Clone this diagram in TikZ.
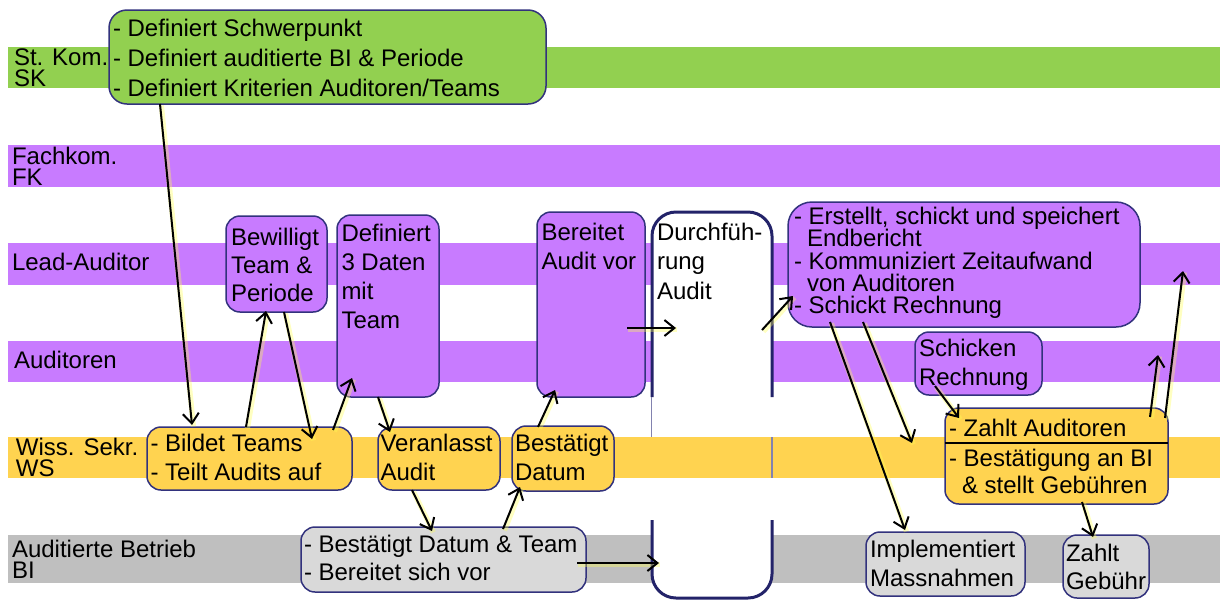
\documentclass[tikz,border=0pt]{standalone}
\usepackage{fontspec}
\setmainfont{Liberation Sans}
\usetikzlibrary{arrows.meta,calc}
\definecolor{cgreen}{RGB}{146,208,80}
\definecolor{cpurple}{RGB}{200,123,255}
\definecolor{cyellow}{RGB}{255,211,80}
\definecolor{cgrayband}{RGB}{191,191,191}
\definecolor{cgraybox}{RGB}{217,217,217}
\definecolor{cborder}{RGB}{50,50,125}
\definecolor{cdur}{RGB}{35,35,105}
\definecolor{cthin}{RGB}{130,130,175}
\definecolor{cglow}{RGB}{255,255,80}
\newcommand\tl[2]{\parbox[t]{9cm}{\fontsize{12}{#1}\selectfont #2}}
\begin{document}
\begin{tikzpicture}[x=0.5pt,y=-0.5pt,
  box/.style={draw=cborder, line width=0.75pt, rounded corners=7pt, inner sep=0pt, outer sep=0pt, anchor=north west},
  txt/.style={anchor=base west, inner sep=0pt, outer sep=0pt},
  arr/.style={draw=black, line width=1pt, -{Straight Barb[length=5pt,width=8pt,line width=1pt]},
    preaction={draw=cglow, draw opacity=0.35, line width=2.6pt, -, transform canvas={shift={(0.7pt,-0.7pt)}}}},
  durline/.style={draw=cdur, line width=1.5pt, fill=white, rounded corners=12pt}]
\useasboundingbox (0,0) rectangle (1220,601);
\fill[white] (0,0) rectangle (1220,601);
% lanes
\fill[cgreen] (8,47) rectangle (1220,88);
\fill[cpurple] (8,145) rectangle (1220,187);
\fill[cpurple] (8,243) rectangle (1220,285);
\fill[cpurple] (8,341) rectangle (1220,382);
\fill[cyellow] (8,437) rectangle (1220,478);
\fill[cgrayband] (8,535) rectangle (1220,583);
\node[txt] (lsk) at (14,65.5) {\tl{10.4}{St. Kom.\\SK}};
\node[txt] (lfk) at (12,164.5) {\tl{10.3}{Fachkom.\\FK}};
\node[txt] (lla) at (12,270) {\tl{10}{Lead-Auditor}};
\node[txt] (lau) at (14,368) {\tl{10}{Auditoren}};
\node[txt] (lws) at (16,455.5) {\tl{10.6}{Wiss. Sekr.\\WS}};
\node[txt] (lbi) at (12,557.5) {\tl{10.6}{Auditierte Betrieb\\BI}};
% Durchfuehrung
\node[anchor=north west, minimum width=60pt, minimum height=193pt, inner sep=0pt, outer sep=0pt] (dur) at (652,212) {};
\path[durline] (652,397) -- (652,212) -- (772,212) -- (772,397);
\path[durline] (652,520) -- (652,598) -- (772,598) -- (772,520);
\draw[cthin, line width=0.5pt] (651.5,397) -- (651.5,437);
\draw[cthin, line width=0.6pt] (772,437) -- (772,478);
\node[txt] (tdur) at (657,240.7) {\tl{14.6}{Durchfüh-\\rung\\Audit}};
% boxes
\node[box, fill=cgreen, minimum width=218.5pt, minimum height=47pt, rounded corners=9pt] (sk) at (109,10) {};
\node[txt] (tsk) at (113,36) {\tl{15.2}{- Definiert Schwerpunkt\\- Definiert auditierte BI \& Periode\\- Definiert Kriterien Auditoren/Teams}};
\node[box, fill=cpurple, minimum width=50.5pt, minimum height=48pt] (bew) at (226,216) {};
\node[txt] (tbew) at (231,245) {\tl{14}{Bewilligt\\Team \&\\Periode}};
\node[box, fill=cpurple, minimum width=51pt, minimum height=91pt] (def) at (337,215) {};
\node[txt] (tdef) at (341.5,241.7) {\tl{14.4}{Definiert\\3 Daten\\mit\\Team}};
\node[box, fill=cpurple, minimum width=54pt, minimum height=92.5pt] (ber) at (537,212) {};
\node[txt] (tber) at (541.5,240) {\tl{14.6}{Bereitet\\Audit vor}};
\node[box, fill=cpurple, minimum width=176pt, minimum height=62.5pt, rounded corners=12pt] (lead) at (788,202) {};
\node[txt] (tlead) at (794,224.3) {\tl{11.2}{- Erstellt, schickt und speichert\\\hspace*{6.5pt}Endbericht\\- Kommuniziert Zeitaufwand\\\hspace*{6.5pt}von Auditoren\\- Schickt Rechnung}};
\node[box, fill=cpurple, minimum width=63.5pt, minimum height=31.5pt] (sch) at (915,332) {};
\node[txt] (tsch) at (919,356.7) {\tl{14.2}{Schicken\\Rechnung}};
\node[box, fill=cyellow, minimum width=102.5pt, minimum height=31.5pt] (bild) at (147,427) {};
\node[txt] (tbild) at (150.5,451.7) {\tl{14.2}{- Bildet Teams\\- Teilt Audits auf}};
\node[box, fill=cyellow, minimum width=61pt, minimum height=31.5pt] (ver) at (378,427) {};
\node[txt] (tver) at (380.5,451.7) {\tl{14.2}{Veranlasst\\Audit}};
\node[box, fill=cyellow, minimum width=51pt, minimum height=32.5pt] (bdat) at (512,426) {};
\node[txt] (tbdat) at (515,451.7) {\tl{14.5}{Bestätigt\\Datum}};
\node[box, fill=cyellow, minimum width=111.5pt, minimum height=48pt] (zahl) at (945,408) {};
\draw[black, line width=0.75pt] ($(zahl.north west)+(0,35)$) -- ($(zahl.north east)+(0,35)$);
\node[txt] (tzahl) at (949,436) {\tl{14}{- Zahlt Auditoren}};
\node[txt] (tbest) at (949,466.7) {\tl{13.3}{- Bestätigung an BI\\\hspace*{6.5pt}\& stellt Gebühren}};
\node[box, fill=cgraybox, minimum width=142.5pt, minimum height=32.5pt] (gray) at (301,527) {};
\node[txt] (tgray) at (304,552.7) {\tl{14}{- Bestätigt Datum \& Team\\- Bereitet sich vor}};
\node[box, fill=cgraybox, minimum width=79.5pt, minimum height=32pt] (impl) at (866,532) {};
\node[txt] (timpl) at (870,557) {\tl{14.5}{Implementiert\\Massnahmen}};
\node[box, fill=cgraybox, minimum width=43pt, minimum height=31.5pt] (geb) at (1063,535) {};
\node[txt] (tgeb) at (1066,561) {\tl{14.2}{Zahlt\\Gebühr}};
% free ends
\coordinate (m1) at (912,443);
\coordinate (o1) at (1158,355);
\coordinate (p1) at (1183,271);
% arrows
\draw[arr] ($(sk.south west)+(51,0)$) -- ($(bild.north west)+(45,-2)$);
\draw[arr] ($(bild.north west)+(99,0)$) -- ($(bew.south west)+(40,-1)$);
\draw[arr] ($(bew.south west)+(58,0)$) -- ($(bild.north west)+(165,12)$);
\draw[arr] ($(bild.north west)+(186,3)$) -- ($(def.north west)+(15,163)$);
\draw[arr] ($(def.south west)+(41,0)$) -- ($(ver.north west)+(12,5)$);
\draw[arr] ($(ver.south west)+(34,0)$) -- ($(gray.north west)+(131,4)$);
\draw[arr] ($(gray.north west)+(202,2)$) -- ($(bdat.south west)+(8,-4)$);
\draw[arr] ($(bdat.north west)+(26,1)$) -- ($(ber.south west)+(18,-7)$);
\draw[arr] ($(gray.north west)+(276,36)$) -- ($(dur.north west)+(7,351)$);
\draw[arr] ($(ber.north west)+(90,116)$) -- ($(dur.north west)+(24,116)$);
\draw[arr] ($(dur.north west)+(110,118)$) -- ($(lead.north west)+(5,94)$);
\draw[arr] ($(lead.south west)+(42,-5)$) -- ($(impl.north west)+(39,-2)$);
\draw[arr] ($(lead.south west)+(75,-5)$) -- (m1);
\draw[arr] ($(sch.north west)+(20,54)$) -- ($(zahl.north west)+(14,10)$);
\draw[arr] ($(zahl.north west)+(205,9)$) -- (o1);
\draw[arr] ($(zahl.north west)+(220,10)$) -- (p1);
\draw[arr] ($(zahl.north west)+(137,94)$) -- ($(geb.north west)+(30,2)$);
\end{tikzpicture}
\end{document}
